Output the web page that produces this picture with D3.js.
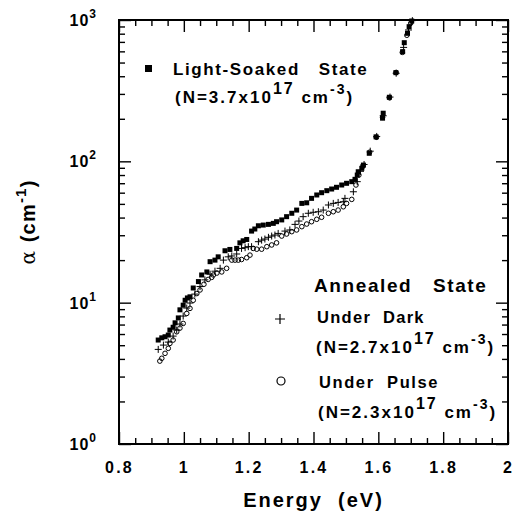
<!DOCTYPE html>
<html>
<head>
<meta charset="utf-8">
<script src="https://cdn.jsdelivr.net/npm/d3@7"></script>
<style>
body{margin:0;background:#fff;}
text{font-family:"Liberation Sans",Arial,sans-serif;font-weight:bold;fill:#000;white-space:pre;}
</style>
</head>
<body>
<div id="chart"></div>
<script>
// data: [energy (eV), alpha (cm^-1)]
var lightSoaked = [[0.921,5.44],[0.932,5.64],[0.942,5.74],[0.952,5.9],[0.957,6.4],[0.967,6.7],[0.973,7.2],[0.983,7.8],[0.988,8.9],[0.998,9.6],
[1.004,10.4],[1.011,10.8],[1.019,11.0],[1.029,12.7],[1.045,14.1],[1.055,15.7],[1.071,16.5],[1.081,19.5],[1.096,20.0],[1.106,21.1],
[1.127,23.3],[1.142,23.8],[1.163,24.2],[1.173,26.5],[1.183,27.4],[1.194,28.0],[1.209,32.1],[1.219,33.2],[1.230,35.0],[1.245,35.4],
[1.261,35.8],[1.276,36.4],[1.286,37.4],[1.302,38.5],[1.317,40.6],[1.333,42.9],[1.348,45.2],[1.364,50.4],[1.379,50.9],[1.394,54.7],
[1.410,57.8],[1.425,60.0],[1.441,62.0],[1.456,63.7],[1.471,65.5],[1.487,68.0],[1.502,69.9],[1.518,71.8],[1.528,74.6],[1.535,80.0],
[1.538,84.4],[1.549,89.2],[1.554,94.1],[1.572,114],[1.593,149],[1.613,202],[1.615,219],[1.634,284],[1.654,424],[1.675,597],
[1.680,691],[1.690,805],[1.695,897],[1.703,984]];

var underDark = [[0.921,4.67],[0.937,5.01],[0.952,5.26],[0.967,5.80],[0.978,6.40],[0.988,7.06],[0.998,8.04],[1.009,9.16],[1.019,9.94],[1.034,11.5],
[1.050,13.0],[1.065,14.5],[1.081,15.9],[1.096,16.7],[1.112,17.5],[1.122,20.0],[1.137,21.1],[1.148,21.4],[1.163,22.1],[1.178,24.2],
[1.189,24.5],[1.199,24.9],[1.209,24.9],[1.230,27.0],[1.240,27.7],[1.250,28.2],[1.261,29.0],[1.271,29.6],[1.281,30.1],[1.291,30.9],
[1.312,32.1],[1.327,32.7],[1.343,35.8],[1.355,37.8],[1.368,40.6],[1.384,42.9],[1.399,43.6],[1.415,44.0],[1.430,45.2],[1.446,49.1],
[1.461,50.4],[1.476,51.2],[1.492,51.8],[1.497,54.7],[1.523,60.9],[1.535,71.8],[1.545,85],[1.556,95],[1.575,118],[1.595,150],
[1.615,210],[1.636,285],[1.655,420],[1.678,640],[1.693,850],[1.705,990]];

var underPulse = [[0.926,3.86],[0.932,4.04],[0.942,4.38],[0.952,4.75],[0.957,5.15],[0.967,5.44],[0.978,6.22],[0.988,6.61],[0.998,7.13],[1.009,8.39],
[1.019,9.11],[1.029,10.4],[1.040,11.6],[1.050,12.3],[1.062,13.5],[1.075,14.6],[1.086,15.1],[1.091,15.7],[1.102,16.2],[1.117,16.5],
[1.132,17.5],[1.148,20.0],[1.158,20.0],[1.168,20.0],[1.178,20.2],[1.194,20.8],[1.204,21.7],[1.214,24.2],[1.225,23.9],[1.240,23.9],
[1.256,24.9],[1.271,25.6],[1.286,26.5],[1.302,29.6],[1.317,30.6],[1.333,31.8],[1.348,32.7],[1.364,34.5],[1.379,36.0],[1.394,37.4],
[1.410,38.9],[1.425,40.2],[1.446,42.9],[1.461,44.0],[1.476,45.2],[1.492,47.7],[1.502,50.4],[1.518,53.8],[1.531,68.0],[1.540,80],
[1.552,92],[1.573,116],[1.594,148],[1.613,205],[1.634,282],[1.655,425],[1.674,590],[1.688,780],[1.700,950]];

var xMajor = [0.8,1,1.2,1.4,1.6,1.8,2];
var yDecades = [0,1,2,3];

var svgWidth = 513, svgHeight = 521;
var margin = {t:20, r:5, b:77, l:119};
var width = svgWidth - margin.l - margin.r,
    height = svgHeight - margin.t - margin.b;

var svg = d3.select('#chart').append('svg')
  .attr('width', svgWidth)
  .attr('height', svgHeight);

var chart = svg.append('g')
  .attr('transform', `translate(${margin.l},${margin.t})`);

var x = d3.scaleLinear().domain([0.8, 2]).range([0, width]);
var y = d3.scaleLog().domain([1, 1000]).range([height, 0]);

// minor ticks
var xMinor = d3.range(0.8, 2.0001, 0.05).filter(v => Math.abs(Math.round(v*5) - v*5) > 1e-6);
var yMinor = [];
[1,10,100].forEach(b => { for (var k = 2; k <= 9; k++) yMinor.push(b*k); });

function drawAxis(axis, tr) {
  var g = chart.append('g').attr('transform', tr).call(axis);
  g.select('.domain').remove();
  g.selectAll('line').attr('stroke', '#000').attr('stroke-width', 1.4);
  return g;
}

// bottom
drawAxis(d3.axisBottom(x).tickValues(xMajor).tickSize(-12).tickPadding(18)
  .tickFormat(d => String(+d.toFixed(1))), `translate(0,${height})`)
  .selectAll('text').attr('font-size', 16).attr('letter-spacing', 2.2).attr('font-family', '"Liberation Sans",Arial,sans-serif');
drawAxis(d3.axisBottom(x).tickValues(xMinor).tickSize(-6).tickFormat(''), `translate(0,${height})`);
// top
drawAxis(d3.axisTop(x).tickValues(xMajor).tickSize(-12).tickFormat(''), 'translate(0,0)');
drawAxis(d3.axisTop(x).tickValues(xMinor).tickSize(-6).tickFormat(''), 'translate(0,0)');
// left / right
var yMajorVals = yDecades.map(p => Math.pow(10, p));
drawAxis(d3.axisLeft(y).tickValues(yMajorVals).tickSize(-12).tickFormat(''), 'translate(0,0)');
drawAxis(d3.axisLeft(y).tickValues(yMinor).tickSize(-6).tickFormat(''), 'translate(0,0)');
drawAxis(d3.axisRight(y).tickValues(yMajorVals).tickSize(-12).tickFormat(''), `translate(${width},0)`);
drawAxis(d3.axisRight(y).tickValues(yMinor).tickSize(-6).tickFormat(''), `translate(${width},0)`);

// y tick labels 10^n
yDecades.forEach(p => {
  var t = chart.append('text')
    .attr('x', -22).attr('y', y(Math.pow(10, p)) + 6)
    .attr('text-anchor', 'end')
    .attr('font-size', 16).attr('letter-spacing', 1);
  t.append('tspan').text('10');
  t.append('tspan').attr('dy', -8).attr('font-size', 12).text(p);
});

// frame
chart.append('rect')
  .attr('width', width).attr('height', height)
  .attr('fill', 'none').attr('stroke', '#000').attr('stroke-width', 2);

// data
chart.selectAll('circle.pulse')
  .data(underPulse).enter().append('circle')
  .attr('class', 'pulse')
  .attr('cx', d => x(d[0])).attr('cy', d => y(d[1]))
  .attr('r', 2.3).attr('fill', 'none').attr('stroke', '#000').attr('stroke-width', 1);

chart.selectAll('path.dark')
  .data(underDark).enter().append('path')
  .attr('class', 'dark')
  .attr('d', d => `M${x(d[0])-3.5},${y(d[1])}h7M${x(d[0])},${y(d[1])-3.5}v7`)
  .attr('stroke', '#000').attr('stroke-width', 1);

chart.selectAll('rect.soak')
  .data(lightSoaked).enter().append('rect')
  .attr('class', 'soak')
  .attr('x', d => x(d[0]) - 2.5).attr('y', d => y(d[1]) - 2.5)
  .attr('width', 5).attr('height', 5).attr('fill', '#000');

// legends (page coords)
var leg = svg.append('g');
leg.append('rect').attr('x', 145).attr('y', 65).attr('width', 7).attr('height', 7).attr('fill', '#000');
function labelN(xp, yp, val) {
  var t = leg.append('text').attr('x', xp).attr('y', yp).attr('font-size', 17).attr('letter-spacing', 2);
  t.append('tspan').text(`(N=${val}x10`);
  t.append('tspan').attr('dy', -9).attr('font-size', 16).text('17');
  t.append('tspan').attr('dy', 9).text(' cm');
  t.append('tspan').attr('dy', -9).attr('font-size', 14).text('-3');
  t.append('tspan').attr('dy', 9).text(')');
}
leg.append('text').attr('x', 173).attr('y', 75).attr('font-size', 17).attr('letter-spacing', 1.6)
  .text('Light-Soaked   State');
labelN(175, 103, '3.7');

leg.append('text').attr('x', 314).attr('y', 292).attr('font-size', 19).attr('letter-spacing', 1.6)
  .text('Annealed   State');
leg.append('path').attr('d', 'M275,319h10M280,314v10').attr('stroke', '#000').attr('stroke-width', 1.2);
leg.append('text').attr('x', 317).attr('y', 323).attr('font-size', 16.5).attr('letter-spacing', 1.3)
  .text('Under  Dark');
labelN(316, 353, '2.7');
leg.append('circle').attr('cx', 281).attr('cy', 381).attr('r', 4).attr('fill', 'none').attr('stroke', '#000').attr('stroke-width', 1.2);
leg.append('text').attr('x', 319).attr('y', 388).attr('font-size', 16.5).attr('letter-spacing', 1.6)
  .text('Under  Pulse');
labelN(318, 418, '2.3');

// axis titles
svg.append('text')
  .attr('x', margin.l + width / 2).attr('y', 507)
  .attr('text-anchor', 'middle').attr('font-size', 20).attr('letter-spacing', 2)
  .text('Energy  (eV)');

var yl = svg.append('text')
  .attr('transform', 'translate(35,222)rotate(-90)')
  .attr('text-anchor', 'middle').attr('font-size', 20).attr('letter-spacing', 1.2);
yl.append('tspan').attr('font-weight', 'normal').attr('font-family', '"DejaVu Serif",serif').text('α ');
yl.append('tspan').text('(cm');
yl.append('tspan').attr('dy', -9).attr('font-size', 15).text('-1');
yl.append('tspan').attr('dy', 9).text(')');
</script>
</body>
</html>
